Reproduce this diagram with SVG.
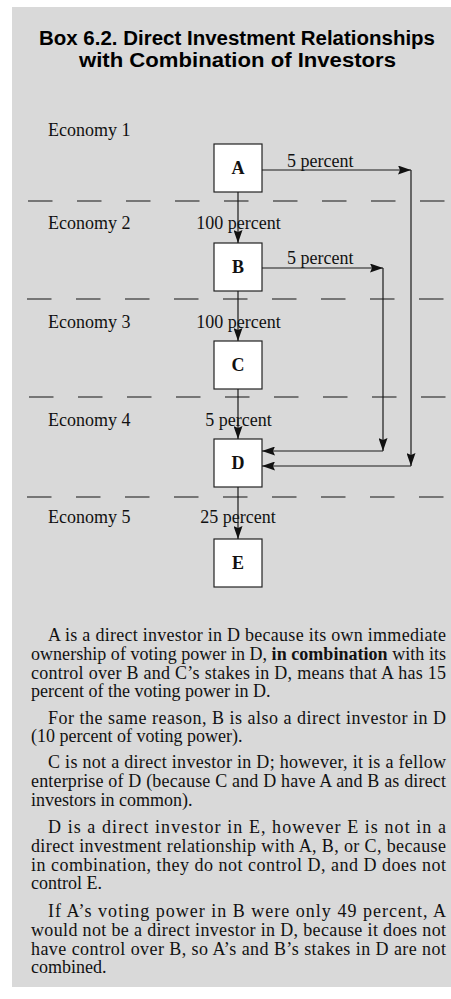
<svg xmlns="http://www.w3.org/2000/svg" width="451" height="999" viewBox="0 0 451 999">
<style>
.title{font-family:"Liberation Sans",Arial,sans-serif;font-weight:bold;font-size:19.5px;fill:#000;text-anchor:middle}
.lab{font-family:"Liberation Serif","Times New Roman",serif;font-size:18px;fill:#111}
.pct{font-family:"Liberation Serif","Times New Roman",serif;font-size:18px;fill:#111;text-anchor:middle}
.node rect{fill:#fff;stroke:#222;stroke-width:1.2}
.node text{font-family:"Liberation Serif","Times New Roman",serif;font-weight:bold;font-size:18px;fill:#111;text-anchor:middle}
.conn line{stroke:#1a1a1a;stroke-width:1.2;fill:none;marker-end:url(#ah)}
.dash{stroke:#555;stroke-width:1.3;stroke-dasharray:24.5 24.5}
.body{font-family:"Liberation Serif","Times New Roman",serif;font-size:18px;fill:#111}
</style>
<defs>
<marker id="ah" markerUnits="userSpaceOnUse" markerWidth="13" markerHeight="9" refX="13" refY="4.5" orient="auto">
<path d="M0,0 L13,4.5 L0,9 L2,4.5 z" fill="#111"/>
</marker>
</defs>
<rect x="12" y="7" width="439" height="980" fill="#d9d9d9"/>
<g id="title">
<text class="title" x="237" y="45" textLength="396" lengthAdjust="spacingAndGlyphs">Box 6.2. Direct Investment Relationships</text>
<text class="title" x="237.5" y="67" textLength="317" lengthAdjust="spacingAndGlyphs">with Combination of Investors</text>
</g>
<g id="economy-dividers">
<line class="dash" x1="28" y1="201" x2="447" y2="201"/>
<line class="dash" x1="27" y1="299" x2="447" y2="299"/>
<line class="dash" x1="29" y1="397" x2="447" y2="397"/>
<line class="dash" x1="27" y1="497" x2="447" y2="497"/>
</g>
<g id="economy-labels">
<text class="lab" x="48" y="136">Economy 1</text>
<text class="lab" x="48" y="229">Economy 2</text>
<text class="lab" x="48" y="328">Economy 3</text>
<text class="lab" x="48" y="426">Economy 4</text>
<text class="lab" x="48" y="523">Economy 5</text>
</g>
<g id="connector-labels">
<text class="lab" x="287" y="167">5 percent</text>
<text class="lab" x="287" y="264">5 percent</text>
<text class="pct" x="238.5" y="229">100 percent</text>
<text class="pct" x="238.5" y="328">100 percent</text>
<text class="pct" x="238.5" y="426">5 percent</text>
<text class="pct" x="238" y="523">25 percent</text>
</g>
<g id="node-A" class="node"><rect x="214" y="144" width="48" height="48"/><text x="238" y="174">A</text></g>
<g id="node-B" class="node"><rect x="214" y="243" width="48" height="48"/><text x="238" y="273">B</text></g>
<g id="node-C" class="node"><rect x="214" y="341" width="48" height="48"/><text x="238" y="371">C</text></g>
<g id="node-D" class="node"><rect x="214" y="439" width="48" height="48"/><text x="238" y="469">D</text></g>
<g id="node-E" class="node"><rect x="214" y="539" width="48" height="48"/><text x="238" y="569">E</text></g>
<g id="connectors" class="conn">
<line x1="238" y1="192" x2="238" y2="243"/>
<line x1="238" y1="291" x2="238" y2="341"/>
<line x1="238" y1="389" x2="238" y2="439"/>
<line x1="238" y1="487" x2="238" y2="539"/>
<line x1="262" y1="170" x2="411" y2="170"/>
<line x1="411" y1="170" x2="411" y2="466"/>
<line x1="411" y1="466" x2="262" y2="466"/>
<line x1="262" y1="268" x2="383" y2="268"/>
<line x1="383" y1="268" x2="383" y2="451"/>
<line x1="383" y1="451" x2="262" y2="451"/>
</g>
<g id="explanation" class="body">
<text x="48" y="641" textLength="398" lengthAdjust="spacing">A is a direct investor in D because its own immediate</text>
<text x="31" y="659.8" textLength="415" lengthAdjust="spacing">ownership of voting power in D, <tspan font-weight="bold">in combination</tspan> with its</text>
<text x="31" y="678.6" textLength="415" lengthAdjust="spacing">control over B and C’s stakes in D, means that A has 15</text>
<text x="31" y="697.4">percent of the voting power in D.</text>
<text x="48" y="723.5" textLength="398" lengthAdjust="spacing">For the same reason, B is also a direct investor in D</text>
<text x="31" y="742.3">(10 percent of voting power).</text>
<text x="48" y="768" textLength="398" lengthAdjust="spacing">C is not a direct investor in D; however, it is a fellow</text>
<text x="31" y="786.8" textLength="415" lengthAdjust="spacing">enterprise of D (because C and D have A and B as direct</text>
<text x="31" y="805.6">investors in common).</text>
<text x="48" y="833" textLength="398" lengthAdjust="spacing">D is a direct investor in E, however E is not in a</text>
<text x="31" y="851.8" textLength="415" lengthAdjust="spacing">direct investment relationship with A, B, or C, because</text>
<text x="31" y="870.6" textLength="415" lengthAdjust="spacing">in combination, they do not control D, and D does not</text>
<text x="31" y="889.4">control E.</text>
<text x="48" y="917" textLength="398" lengthAdjust="spacing">If A’s voting power in B were only 49 percent, A</text>
<text x="31" y="935.8" textLength="415" lengthAdjust="spacing">would not be a direct investor in D, because it does not</text>
<text x="31" y="954.6" textLength="415" lengthAdjust="spacing">have control over B, so A’s and B’s stakes in D are not</text>
<text x="31" y="973.4">combined.</text>
</g>
</svg>
